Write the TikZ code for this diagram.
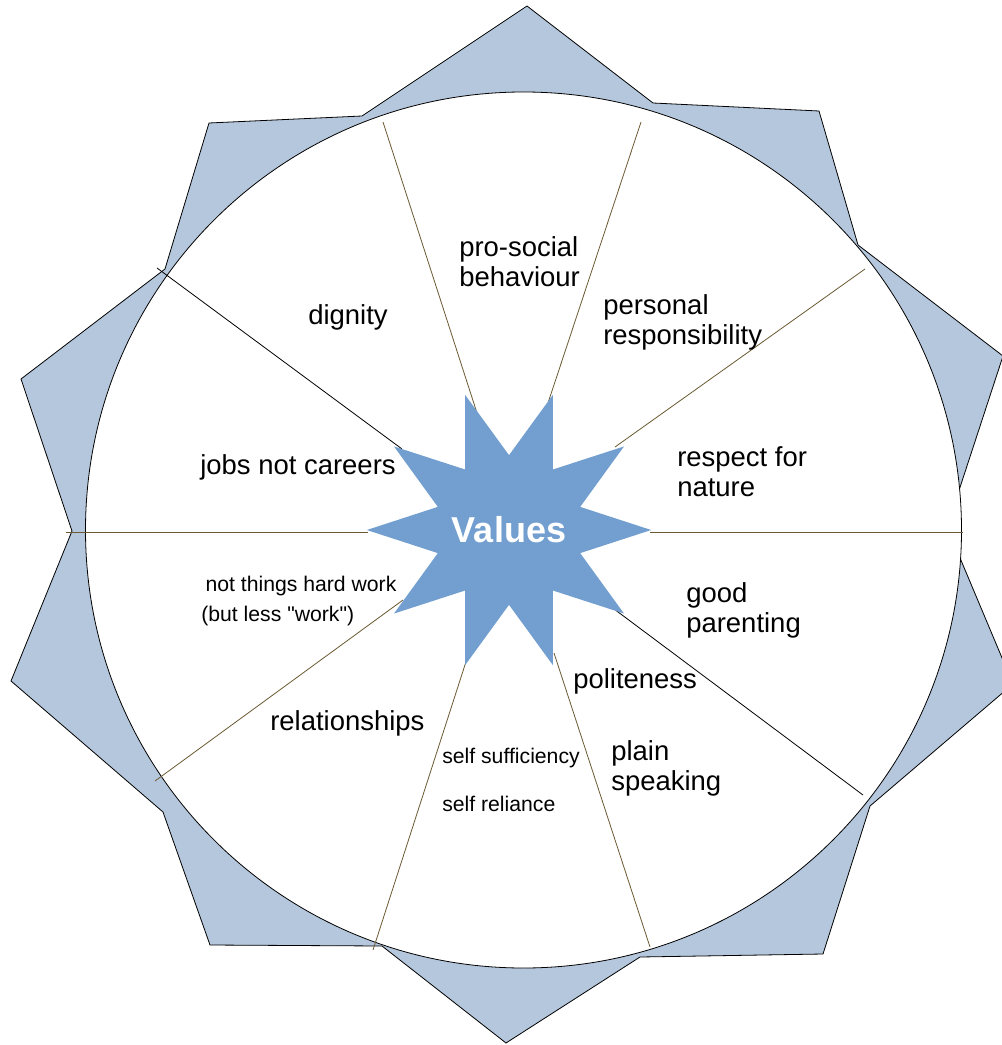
\documentclass[tikz,border=0pt]{standalone}
\usepackage{fontspec}
\setmainfont{Liberation Sans}
\usetikzlibrary{shapes.geometric}
\definecolor{petalblue}{HTML}{B4C7DC}
\definecolor{starblue}{HTML}{729FCF}
\definecolor{spokebrown}{HTML}{6B5A33}
\tikzset{
  petal/.style={fill=petalblue, draw=black, line width=0.6pt, line join=miter},
  spoke/.style={draw=spokebrown, line width=0.6pt},
  word/.style={anchor=base west, inner sep=0pt, align=left, font=\fontsize{20.6}{22.5}\selectfont},
  smallword/.style={word, font=\fontsize{15.9}{22.5}\selectfont},
  valuestar/.style={star, star points=10, star point ratio=1.9, minimum size=196pt,
    inner sep=-3.1pt, shape border rotate=18, fill=starblue, text=white,
    font=\bfseries\fontsize{27}{30}\selectfont}
}
\begin{document}
\begin{tikzpicture}[x=0.75pt, y=-0.75pt]
  \useasboundingbox (0,0) rectangle (1002,1045);
  \clip (0,0) rectangle (1002,1045);
  \path[petal] (527,6) -- (653,103) -- (819,111) -- (858,245) -- (1003,356)
    -- (947,527) -- (1013,684) -- (870,806) -- (823,954) -- (640,957)
    -- (506,1043) -- (382,946) -- (210,945) -- (163,812) -- (11,681)
    -- (72,531) -- (21,379) -- (165,269) -- (209,123) -- (362,116) -- cycle;
  \node[circle, draw=black, fill=white, line width=0.6pt, minimum size=657pt, inner sep=0pt] (ring) at (523.5,530) {};

  \coordinate (r1) at (383,122);  \coordinate (s1) at (477,413);
  \coordinate (r2) at (641,122);  \coordinate (s2) at (548,403);
  \coordinate (r3) at (865,269);  \coordinate (s3) at (615,447);
  \coordinate (r4) at (963,532);  \coordinate (s4) at (650,532);
  \coordinate (r5) at (863,795);  \coordinate (s5) at (602,600);
  \coordinate (r6) at (650,947);  \coordinate (s6) at (554,653);
  \coordinate (r7) at (373,950);  \coordinate (s7) at (473,640);
  \coordinate (r8) at (155,781);  \coordinate (s8) at (403,600);
  \coordinate (r9) at (66,532);   \coordinate (s9) at (368,532);
  \coordinate (r10) at (157,268); \coordinate (s10) at (402,449);
  \foreach \i in {1,2,3,4,6,7,8,9}
    \draw[spoke] (r\i) -- (s\i);
  \draw[line width=0.6pt] (r5) -- (s5);
  \draw[line width=0.6pt] (r10) -- (s10);

  \node[valuestar] (values) at (509,530) {Values};

  \node[word] (prosocial) at (459,286) {pro-social\\behaviour};
  \node[word] (dignity) at (308,324) {dignity};
  \node[word] (personal) at (603,344) {personal\\responsibility};
  \node[word] (nature) at (677,496) {respect for\\nature};
  \node[word] (jobs) at (200,474) {jobs not careers};
  \node[smallword] (things) at (201,621) {\hspace*{8\pgflinewidth}not things hard work\\(but less \textquotedbl work\textquotedbl)};
  \node[word] (parenting) at (686,632) {good\\parenting};
  \node[word] (politeness) at (573,688) {politeness};
  \node[word] (plain) at (611,790) {plain\\speaking};
  \node[word] (relations) at (270,730) {relationships};
  \node[smallword] (sufficiency) at (442,763) {self sufficiency};
  \node[smallword] (reliance) at (442,811) {self reliance};
\end{tikzpicture}
\end{document}
